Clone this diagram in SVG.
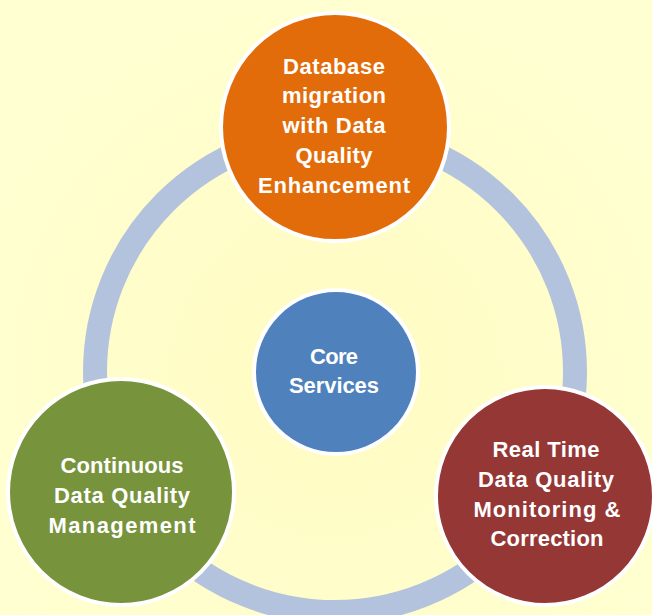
<svg xmlns="http://www.w3.org/2000/svg" width="652" height="615" viewBox="0 0 652 615">
<defs>
<radialGradient id="bg" cx="335" cy="372" r="420" gradientUnits="userSpaceOnUse">
<stop offset="0" stop-color="#FFFBC2"/>
<stop offset="1" stop-color="#FFFFD2"/>
</radialGradient>
</defs>
<style>
.node{stroke:#FFFFFF;stroke-width:4}
.lbl{font-family:"Liberation Sans",Arial,sans-serif;font-weight:bold;font-size:22px;fill:#FFFFFF;text-anchor:middle}
</style>
<rect x="0" y="0" width="652" height="615" fill="url(#bg)"/>
<g id="connectors">
<circle cx="335" cy="372" r="240" fill="none" stroke="#B3C3DE" stroke-width="24"/>
</g>
<g id="node-database">
<circle class="node" cx="335" cy="127" r="114" fill="#E36C0A"/>
<text class="lbl" x="334" y="74" textLength="102" lengthAdjust="spacing">Database</text>
<text class="lbl" x="334" y="103" textLength="104" lengthAdjust="spacing">migration</text>
<text class="lbl" x="334" y="133" textLength="103" lengthAdjust="spacing">with Data</text>
<text class="lbl" x="334" y="163" textLength="77" lengthAdjust="spacing">Quality</text>
<text class="lbl" x="334" y="193" textLength="152" lengthAdjust="spacing">Enhancement</text>
</g>
<g id="node-core">
<circle class="node" cx="336" cy="372" r="82" fill="#4F81BD"/>
<text class="lbl" x="334" y="364" textLength="48" lengthAdjust="spacing">Core</text>
<text class="lbl" x="334" y="393" textLength="90" lengthAdjust="spacing">Services</text>
</g>
<g id="node-continuous">
<circle class="node" cx="121" cy="492" r="113" fill="#77933C"/>
<text class="lbl" x="122" y="473" textLength="123" lengthAdjust="spacing">Continuous</text>
<text class="lbl" x="122" y="503" textLength="136" lengthAdjust="spacing">Data Quality</text>
<text class="lbl" x="122" y="533" textLength="147" lengthAdjust="spacing">Management</text>
</g>
<g id="node-realtime">
<circle class="node" cx="545" cy="496" r="109" fill="#953735"/>
<text class="lbl" x="546" y="457" textLength="107" lengthAdjust="spacing">Real Time</text>
<text class="lbl" x="546" y="487" textLength="136" lengthAdjust="spacing">Data Quality</text>
<text class="lbl" x="547" y="517" textLength="147" lengthAdjust="spacing">Monitoring &amp;</text>
<text class="lbl" x="547" y="546" textLength="113" lengthAdjust="spacing">Correction</text>
</g>
</svg>
